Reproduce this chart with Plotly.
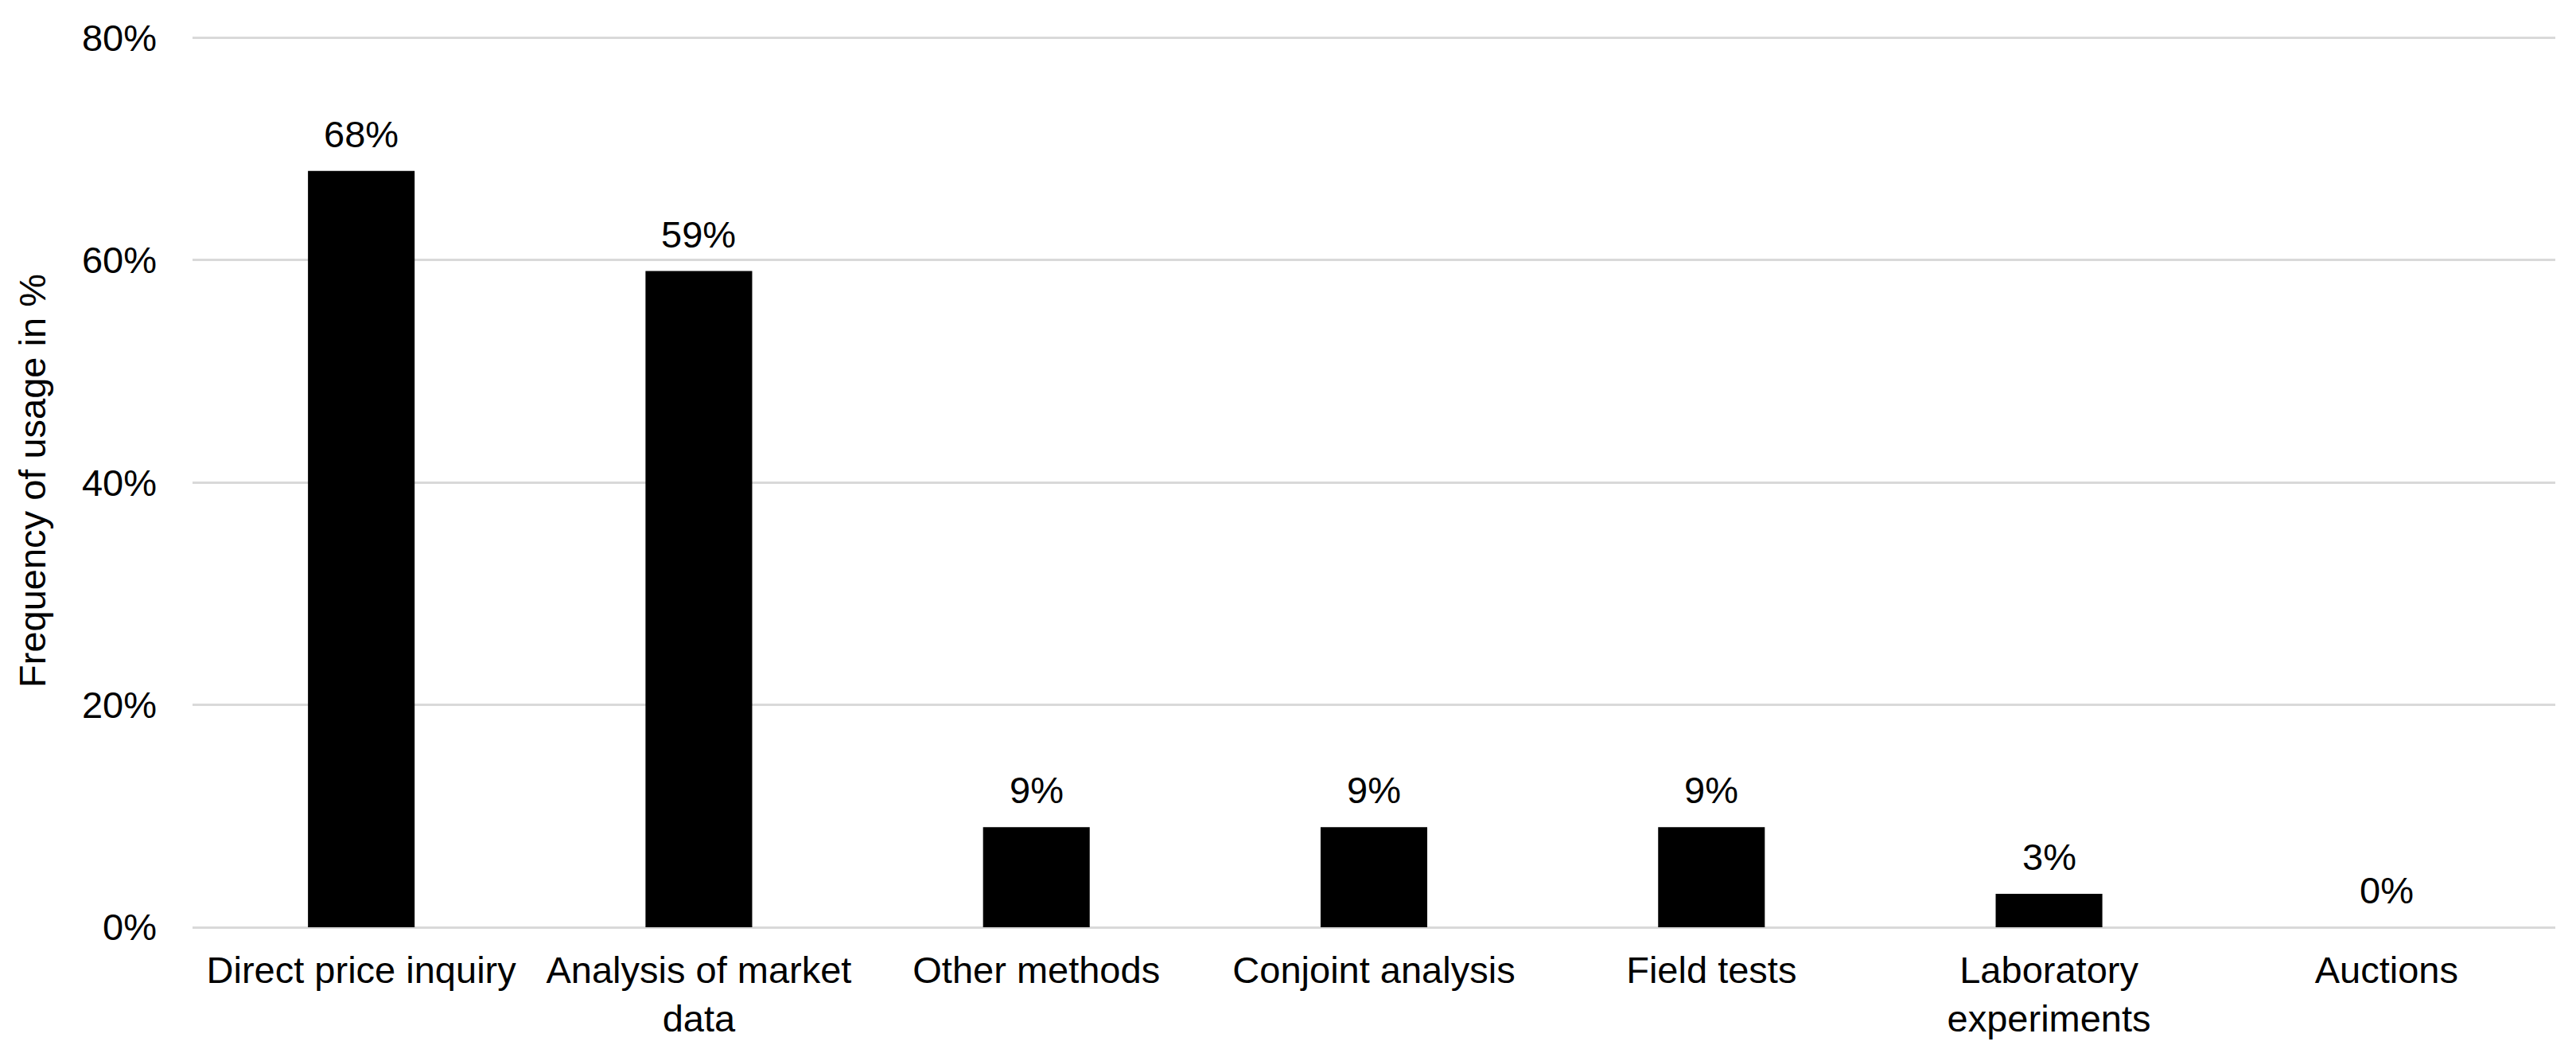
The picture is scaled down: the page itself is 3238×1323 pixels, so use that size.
import plotly.graph_objects as go

# Pricing research methods - frequency of usage
methods = [
    "Direct price inquiry",
    "Analysis of market<br>data",
    "Other methods",
    "Conjoint analysis",
    "Field tests",
    "Laboratory<br>experiments",
    "Auctions",
]
usage = [0.68, 0.59, 0.09, 0.09, 0.09, 0.03, 0.00]
y_ticks = [0, 0.2, 0.4, 0.6, 0.8]

font_name = "Liberation Sans, Arial, Helvetica, sans-serif"

fig = go.Figure(go.Bar(x=methods, y=usage, marker=dict(color="black", line=dict(width=0))))

# value labels above the bars
for m, v in zip(methods, usage):
    fig.add_annotation(x=m, y=v, text=f"{v:.0%}", showarrow=False,
                       yanchor="bottom", yshift=18,
                       font=dict(size=47, color="black", family=font_name))

fig.update_layout(
    width=3238, height=1323,
    margin=dict(l=234, r=34, t=35, b=166),
    paper_bgcolor="white", plot_bgcolor="white",
    bargap=0.684,
    showlegend=False,
    font=dict(family=font_name, size=47, color="black"),
)
fig.update_xaxes(showline=False, showgrid=False, ticks="", ticklabelstandoff=22,
                 tickfont=dict(size=47))
fig.update_yaxes(range=[0, 0.803], tickvals=y_ticks, tickformat=".0%",
                 showgrid=True, gridcolor="#d9d9d9", gridwidth=3,
                 zeroline=True, zerolinecolor="#d9d9d9", zerolinewidth=3,
                 showline=False, ticks="", ticklabelstandoff=44,
                 tickfont=dict(size=47),
                 title=dict(text="Frequency of usage in %", font=dict(size=47), standoff=30))

fig.write_html("out.html")
